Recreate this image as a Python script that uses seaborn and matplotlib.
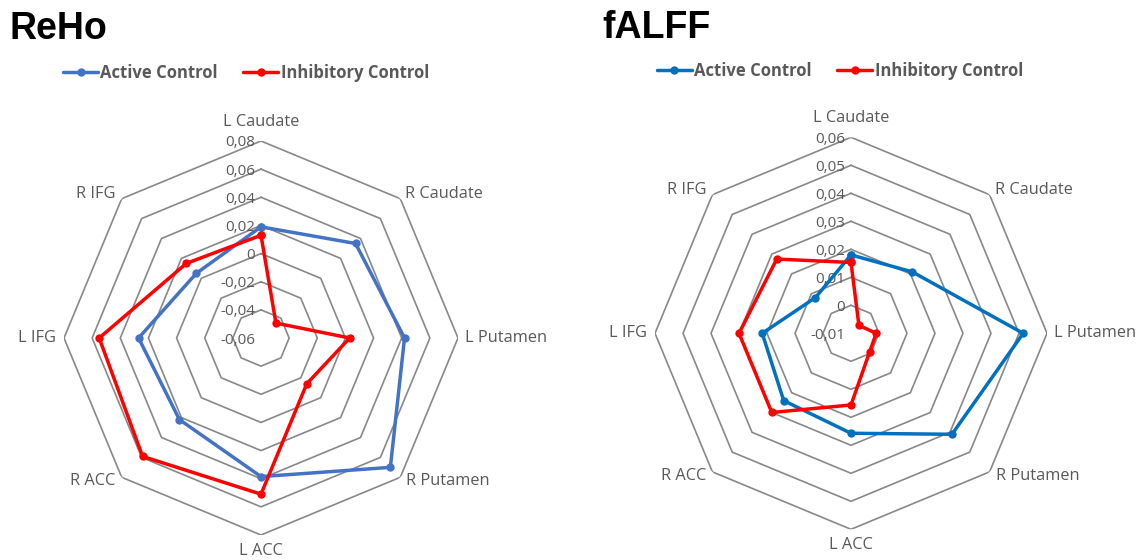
import numpy as np
import pandas as pd
import matplotlib
matplotlib.use("Agg")
import matplotlib.pyplot as plt
import seaborn as sns
from matplotlib.lines import Line2D

sns.set_style("white")
plt.rcParams['font.family'] = ['Open Sans', 'DejaVu Sans']

categories = ["L Caudate", "R Caudate", "L Putamen", "R Putamen",
              "L ACC", "R ACC", "L IFG", "R IFG"]
series_names = ["Active Control", "Inhibitory Control"]

reho_active = [0.019, 0.035, 0.042, 0.070, 0.0385, 0.022, 0.027, 0.005]
reho_inhib = [0.013, -0.045, 0.003, -0.014, 0.051, 0.059, 0.055, 0.015]
reho_ticks = [-0.06, -0.04, -0.02, 0.0, 0.02, 0.04, 0.06, 0.08]
reho_tick_labels = ["-0,06", "-0,04", "-0,02", "0", "0,02", "0,04", "0,06", "0,08"]

falff_active = [0.018, 0.021, 0.0515, 0.041, 0.0257, 0.024, 0.0217, 0.008]
falff_inhib = [0.0153, -0.006, -0.001, -0.0006, 0.0156, 0.030, 0.030, 0.0275]
falff_ticks = [-0.01, 0.0, 0.01, 0.02, 0.03, 0.04, 0.05, 0.06]
falff_tick_labels = ["-0,01", "0", "0,01", "0,02", "0,03", "0,04", "0,05", "0,06"]

W, H = 1139, 560
fig = plt.figure(figsize=(W / 100, H / 100), dpi=100)

GRID = "#888888"
TXT = "#595959"
RED = "#FF0000"

# per-category label offsets (pixels) and alignment
lab_off = [(0, 19, "center"), (5, 5, "left"), (7, 0, "left"), (6, -4, "left"),
           (0, -16, "center"), (-6, -4, "right"), (-8, 0, "right"), (-6, 5, "right")]


def radar(rect, active, inhib, ticks, tick_labels, blue, title, title_xy, leg_xy):
    ax = fig.add_axes(rect, projection="polar")
    ax.set_theta_offset(np.pi / 2)
    ax.set_theta_direction(-1)
    n = len(categories)
    theta = np.arange(n) * 2 * np.pi / n
    theta_c = np.append(theta, theta[0])
    # octagon gridlines
    for t in ticks[1:]:
        ax.plot(theta_c, [t] * (n + 1), color=GRID, lw=1.2, zorder=1)
    rows = []
    for name, vals in zip(series_names, [active, inhib]):
        vv = list(vals) + [vals[0]]
        for i, (th, v) in enumerate(zip(theta_c, vv)):
            rows.append({"theta": th, "value": v, "series": name, "order": i})
    df = pd.DataFrame(rows)
    sns.lineplot(data=df, x="theta", y="value", hue="series", hue_order=series_names,
                 palette={"Active Control": blue, "Inhibitory Control": RED},
                 marker="o", markersize=6, markeredgewidth=0, linewidth=2.5,
                 sort=False, estimator=None, units="series", legend=False, ax=ax, zorder=3)
    ax.set_ylim(ticks[0], ticks[-1])
    ax.grid(False)
    ax.set_xticks([])
    ax.set_yticks([])
    ax.set_xlabel("")
    ax.set_ylabel("")
    ax.spines["polar"].set_visible(False)
    ax.patch.set_alpha(0)
    # radial tick labels
    for t, lab in zip(ticks, tick_labels):
        ax.annotate(lab, xy=(0, t), xytext=(-6, -2), textcoords="offset pixels",
                    ha="right", va="center", fontsize=11, color=TXT, zorder=2)
    # category labels
    for th, cat, (dx, dy, ha) in zip(theta, categories, lab_off):
        ax.annotate(cat, xy=(th, ticks[-1]), xytext=(dx, dy), textcoords="offset pixels",
                    ha=ha, va="center", fontsize=11.8, color=TXT, annotation_clip=False)
    fig.text(title_xy[0] / W, 1 - title_xy[1] / H, title, fontsize=27, fontweight="bold",
             family=["Liberation Sans", "DejaVu Sans"], ha="left", va="center", color="black")
    handles = [Line2D([0], [0], color=blue, lw=2.5, marker="o", markersize=6, markeredgewidth=0),
               Line2D([0], [0], color=RED, lw=2.5, marker="o", markersize=6, markeredgewidth=0)]
    leg = fig.legend(handles, series_names, loc="center left",
                     bbox_to_anchor=(leg_xy[0] / W, 1 - leg_xy[1] / H), ncol=2, frameon=False,
                     handlelength=2.1, handletextpad=0.15, columnspacing=1.5,
                     borderaxespad=0, borderpad=0,
                     prop={"weight": "bold", "size": 12})
    for txt in leg.get_texts():
        txt.set_color(TXT)
    return ax


# left: center (261, 338), radius 197
r1 = 197
radar([(261 - r1) / W, (H - 338 - r1) / H, 2 * r1 / W, 2 * r1 / H],
      reho_active, reho_inhib, reho_ticks, reho_tick_labels, "#4472C4",
      "ReHo", (9, 29), (63, 73))

r2 = 196
radar([(851 - r2) / W, (H - 333.3 - r2) / H, 2 * r2 / W, 2 * r2 / H],
      falff_active, falff_inhib, falff_ticks, falff_tick_labels, "#0070C0",
      "fALFF", (602, 28), (657, 71))

fig.savefig("out.png", dpi=100)
